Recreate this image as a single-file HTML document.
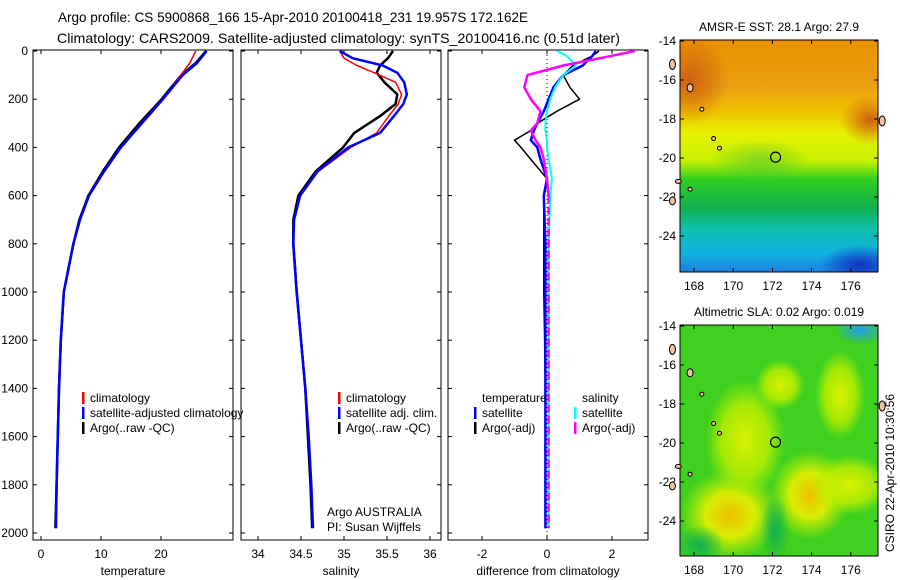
<!DOCTYPE html>
<html><head><meta charset="utf-8"><style>
body{margin:0;background:#fff}
svg{display:block;font-family:"Liberation Sans",sans-serif;font-size:12px}
</style></head><body>
<svg id="fig" width="900" height="580" viewBox="0 0 900 580">
<defs>
<linearGradient id="sstg" x1="0" y1="0" x2="0" y2="1">
<stop offset="0" stop-color="#e89000"/><stop offset="0.2" stop-color="#eaa010"/><stop offset="0.3" stop-color="#f0c000"/><stop offset="0.4" stop-color="#e6f000"/><stop offset="0.52" stop-color="#c8f000"/><stop offset="0.6" stop-color="#30d020"/><stop offset="0.72" stop-color="#10b050"/><stop offset="0.82" stop-color="#10c0b0"/><stop offset="0.92" stop-color="#10b0e0"/><stop offset="1" stop-color="#2080e0"/>
</linearGradient>
<radialGradient id="yb"><stop offset="0" stop-color="#f0c000"/><stop offset="0.5" stop-color="#e8f000" stop-opacity="0.9"/><stop offset="1" stop-color="#c0f000" stop-opacity="0"/></radialGradient>
<radialGradient id="lb"><stop offset="0" stop-color="#d8f000"/><stop offset="0.6" stop-color="#c0f000" stop-opacity="0.8"/><stop offset="1" stop-color="#a0f000" stop-opacity="0"/></radialGradient>
<radialGradient id="ob"><stop offset="0" stop-color="#d06010"/><stop offset="1" stop-color="#d06010" stop-opacity="0"/></radialGradient>
<radialGradient id="bb"><stop offset="0" stop-color="#1030c0"/><stop offset="1" stop-color="#1030c0" stop-opacity="0"/></radialGradient>
<radialGradient id="gb"><stop offset="0" stop-color="#10b050"/><stop offset="1" stop-color="#10b050" stop-opacity="0"/></radialGradient>
<radialGradient id="cb"><stop offset="0" stop-color="#20a0f0"/><stop offset="1" stop-color="#20a0f0" stop-opacity="0"/></radialGradient>
<clipPath id="m1"><rect x="680" y="40" width="198" height="232"/></clipPath>
<clipPath id="m2"><rect x="680" y="325" width="198" height="231"/></clipPath>
<clipPath id="c1"><rect x="33" y="50" width="200" height="490"/></clipPath>
<clipPath id="c3"><rect x="448" y="50" width="200" height="490"/></clipPath>
</defs>
<text x="58" y="22" font-size="14" textLength="470" lengthAdjust="spacingAndGlyphs">Argo profile: CS 5900868_166 15-Apr-2010 20100418_231 19.957S 172.162E</text>
<text x="57" y="43" font-size="14" textLength="563" lengthAdjust="spacingAndGlyphs">Climatology: CARS2009. Satellite-adjusted climatology: synTS_20100416.nc (0.51d later)</text>
<g id="panels"></g>
<g clip-path="url(#m1)">
<rect x="680" y="40" width="198" height="232" fill="url(#sstg)"/>
<ellipse cx="690" cy="80" rx="40" ry="45" fill="url(#ob)"/>
<ellipse cx="870" cy="120" rx="30" ry="25" fill="url(#ob)"/>
<ellipse cx="860" cy="265" rx="40" ry="20" fill="url(#bb)"/>
<ellipse cx="760" cy="160" rx="50" ry="20" fill="url(#gb)" opacity="0.4"/>
</g>
<g clip-path="url(#m2)">
<rect x="680" y="325" width="198" height="231" fill="#40d020"/>
<ellipse cx="730" cy="515" rx="50" ry="45" fill="url(#yb)"/>
<ellipse cx="810" cy="495" rx="40" ry="45" fill="url(#yb)"/>
<ellipse cx="850" cy="485" rx="40" ry="30" fill="url(#lb)"/>
<ellipse cx="745" cy="440" rx="40" ry="60" fill="url(#lb)"/>
<ellipse cx="840" cy="395" rx="25" ry="45" fill="url(#lb)"/>
<ellipse cx="780" cy="385" rx="25" ry="25" fill="url(#lb)"/>
<ellipse cx="860" cy="330" rx="25" ry="15" fill="url(#cb)"/>
<ellipse cx="775" cy="530" rx="15" ry="35" fill="url(#gb)"/>
<ellipse cx="700" cy="545" rx="25" ry="20" fill="url(#gb)"/>
</g>
<g id="maps"></g>
<text transform="translate(894,552) rotate(-90)">CSIRO 22-Apr-2010 10:30:56</text>
</svg>
<script>
const NS='http://www.w3.org/2000/svg';
const depthsT=[0,50,100,200,300,400,500,600,700,800,1000,1200,1400,1600,1800,1980];
const tempClim=[25.8,24.8,23.3,20.4,16.9,13.4,10.5,8,6.5,5.4,3.8,3.3,3.0,2.8,2.6,2.5];
const tempSat=[27.6,26,23.6,20.3,16.8,13.3,10.5,8,6.5,5.4,3.8,3.3,3.0,2.8,2.6,2.5];
const tempArgo=[27.5,25.8,23.4,20.1,16.4,13.0,10.3,7.9,6.4,5.4,3.8,3.3,3.0,2.8,2.6,2.4];
const depthsS=[0,30,60,90,130,180,220,270,340,400,500,600,700,800,1000,1200,1400,1600,1800,1980];
const salClim=[34.95,35.0,35.15,35.35,35.6,35.67,35.63,35.52,35.38,35.08,34.7,34.49,34.42,34.41,34.45,34.5,34.55,34.59,34.62,34.64];
const salSat=[34.95,35.1,35.45,35.62,35.7,35.73,35.69,35.58,35.42,35.05,34.69,34.49,34.42,34.41,34.45,34.5,34.55,34.59,34.62,34.64];
const salArgo=[35.57,35.51,35.42,35.38,35.47,35.62,35.6,35.42,35.12,34.99,34.67,34.47,34.41,34.41,34.45,34.5,34.55,34.58,34.61,34.63];
const depthsD=[0,20,60,100,150,200,250,300,330,370,400,450,530,600,800,1000,1400,1980];
const dTsat=[1.5,1.4,1.1,0.5,0.2,0.05,-0.1,-0.3,-0.4,-0.5,-0.3,-0.2,0,-0.1,-0.05,-0.05,-0.05,-0.05];
const dTargo=[1.6,1.4,0.8,0.5,0.7,1.0,0.3,-0.3,-0.5,-1.0,-0.8,-0.5,0,-0.1,-0.1,-0.1,-0.05,-0.05];
const dSsat=[0.3,0.6,0.9,0.5,0.25,0.1,0.0,-0.05,-0.05,0,0,0.05,0.15,0.1,0.05,0.05,0.05,0.05];
const dSargo=[2.7,2.0,0.5,-0.6,-0.7,-0.5,-0.2,-0.3,-0.5,-0.35,-0.2,-0.1,0,0.05,0.05,0.05,0.05,0.05];
const depthTicks=[0,200,400,600,800,1000,1200,1400,1600,1800,2000];
const tempTicks=[0,10,20];
const salTicks=[34,34.5,35,35.5,36];
const diffTicks=[-2,0,2];
const latTicks=[-14,-16,-18,-20,-22,-24];
const lonTicks=[168,170,172,174,176];
const argoLon=172.162, argoLat=-19.957;

const yD=d=>51+d*0.241;
const xT=v=>41+v*6;
const xS=v=>258+(v-34)*86;
const xDf=v=>547+v*32.5;
function mk(tag,attrs,parent){const e=document.createElementNS(NS,tag);for(const k in attrs)e.setAttribute(k,attrs[k]);parent.appendChild(e);return e;}
const P=document.getElementById('panels');
function panel(x0,name,xticks,xf,xlabel,fmt){
  const g=mk('g',{},P);
  
  
  mk('rect',{x:x0,y:50,width:200,height:490,fill:'none',stroke:'#000'},g);
  depthTicks.forEach(d=>{const y=yD(d);
    mk('line',{x1:x0,x2:x0+4,y1:y,y2:y,stroke:'#000'},g);
    mk('line',{x1:x0+196,x2:x0+200,y1:y,y2:y,stroke:'#000'},g);
    if(x0===33){const t=mk('text',{x:28,y:y+4,'text-anchor':'end'},g);t.textContent=d;
      }
  });
  xticks.forEach(v=>{const x=xf(v);
    mk('line',{x1:x,x2:x,y1:540,y2:536,stroke:'#000'},g);
    mk('line',{x1:x,x2:x,y1:50,y2:54,stroke:'#000'},g);
    const t=mk('text',{x:x,y:558,'text-anchor':'middle'},g);t.textContent=fmt(v);
    
  });
  const t=mk('text',{x:x0+100,y:575,'text-anchor':'middle'},g);t.textContent=xlabel;
  
  return g;
}
function line(g,ds,vs,xf,color,w,name,dash){
  const pts=ds.map((d,i)=>xf(vs[i]).toFixed(1)+','+yD(d).toFixed(1)).join(' ');
  const p=mk('polyline',{points:pts,fill:'none',stroke:color,'stroke-width':w,'stroke-linejoin':'round'},g);
  if(dash)p.setAttribute('stroke-dasharray',dash);
  
  
}
function legend(g,x,y,items){
  items.forEach((it,i)=>{
    if(it[0])mk('rect',{x:x,y:y+i*15-10,width:2.5,height:12,fill:it[0]},g);
    const t=mk('text',{x:x+8,y:y+i*15},g);t.textContent=it[1];
    
  });
}
const g1=panel(33,'temperature-panel',tempTicks,xT,'temperature',v=>v);
const l1=mk('g',{'clip-path':'url(#c1)'},g1);
line(l1,depthsT,tempArgo,xT,'#000',2.5,'argo-temperature-line');
line(l1,depthsT,tempClim,xT,'#f00',1.5,'climatology-temperature-line');
line(l1,depthsT,tempSat,xT,'#00f',2.5,'satellite-temperature-line');
legend(g1,82,402,[['#f00','climatology'],['#00f','satellite-adjusted climatology'],['#000','Argo(..raw -QC)']]);
const g2=panel(241,'salinity-panel',salTicks,xS,'salinity',v=>v);
line(g2,depthsS,salArgo,xS,'#000',2.5,'argo-salinity-line');
line(g2,depthsS,salClim,xS,'#f00',1.5,'climatology-salinity-line');
line(g2,depthsS,salSat,xS,'#00f',2.5,'satellite-salinity-line');
legend(g2,338,402,[['#f00','climatology'],['#00f','satellite adj. clim.'],['#000','Argo(..raw -QC)']]);
let t=mk('text',{x:327,y:516},g2);t.textContent='Argo AUSTRALIA';

t=mk('text',{x:327,y:531},g2);t.textContent='PI: Susan Wijffels';

const g3=panel(448,'difference-panel',diffTicks,xDf,'difference from climatology',v=>v);
mk('line',{x1:xDf(0),x2:xDf(0),y1:51,y2:539,stroke:'#000','stroke-dasharray':'1,3'},g3);
const l3=mk('g',{'clip-path':'url(#c3)'},g3);
line(l3,depthsD,dTargo,xDf,'#000',1.5,'argo-temp-diff-line');
line(l3,depthsD,dTsat,xDf,'#00f',2.5,'satellite-temp-diff-line');
line(l3,depthsD,dSsat,xDf,'#0ff',2,'satellite-sal-diff-line');
const cut=depthsD.indexOf(600);
line(l3,depthsD.slice(0,cut+1),dSargo.slice(0,cut+1),xDf,'#f0f',2.5,'argo-sal-diff-line-upper');
line(l3,depthsD.slice(cut),dSargo.slice(cut),xDf,'#f0f',2.5,'argo-sal-diff-line-lower','8,3');
legend(g3,474,402,[[null,'temperature'],['#00f','satellite'],['#000','Argo(-adj)']]);
legend(g3,574,402,[[null,'salinity'],['#0ff','satellite'],['#f0f','Argo(-adj)']]);

const M=document.getElementById('maps');
function mapAxes(y0,h,title,name){
  const g=mk('g',{},M);
  
  
  const xL=v=>694+(v-168)*19.6, yL=v=>y0+1+(-14-v)*19.5;
  mk('rect',{x:680,y:y0,width:198,height:h,fill:'none',stroke:'#000'},g);
  latTicks.forEach(v=>{const y=yL(v);
    mk('line',{x1:680,x2:684,y1:y,y2:y,stroke:'#000'},g);
    mk('line',{x1:874,x2:878,y1:y,y2:y,stroke:'#000'},g);
    const tt=mk('text',{x:676,y:y+4,'text-anchor':'end'},g);tt.textContent=v;
    });
  lonTicks.forEach(v=>{const x=xL(v);
    mk('line',{x1:x,x2:x,y1:y0+h,y2:y0+h-4,stroke:'#000'},g);
    mk('line',{x1:x,x2:x,y1:y0,y2:y0+4,stroke:'#000'},g);
    const tt=mk('text',{x:x,y:y0+h+18,'text-anchor':'middle'},g);tt.textContent=v;
    });
  const tt=mk('text',{x:779,y:y0-9,'text-anchor':'middle'},g);tt.textContent=title;
  
  [[-15.2,166.9,3,5],[-16.4,167.8,3,4],[-17.5,168.4,2,2],[-19,169,2,2],[-19.5,169.3,2,2],[-21.2,167.2,3,2],[-21.6,167.8,2,2],[-22.2,166.9,3,4],[-18.1,177.6,3,5]].forEach(p=>{
    const e=mk('ellipse',{cx:xL(p[1]),cy:yL(p[0]),rx:p[2],ry:p[3],fill:'#f0c0a0',stroke:'#000','stroke-width':1},g);
    });
  const c=mk('circle',{cx:xL(argoLon),cy:yL(argoLat),r:5,fill:'none',stroke:'#000','stroke-width':1.2},g);
  
}
mapAxes(40,232,'AMSR-E SST: 28.1 Argo: 27.9','sst-map');
mapAxes(325,231,'Altimetric SLA: 0.02 Argo: 0.019','sla-map');
</script>
</body></html>
